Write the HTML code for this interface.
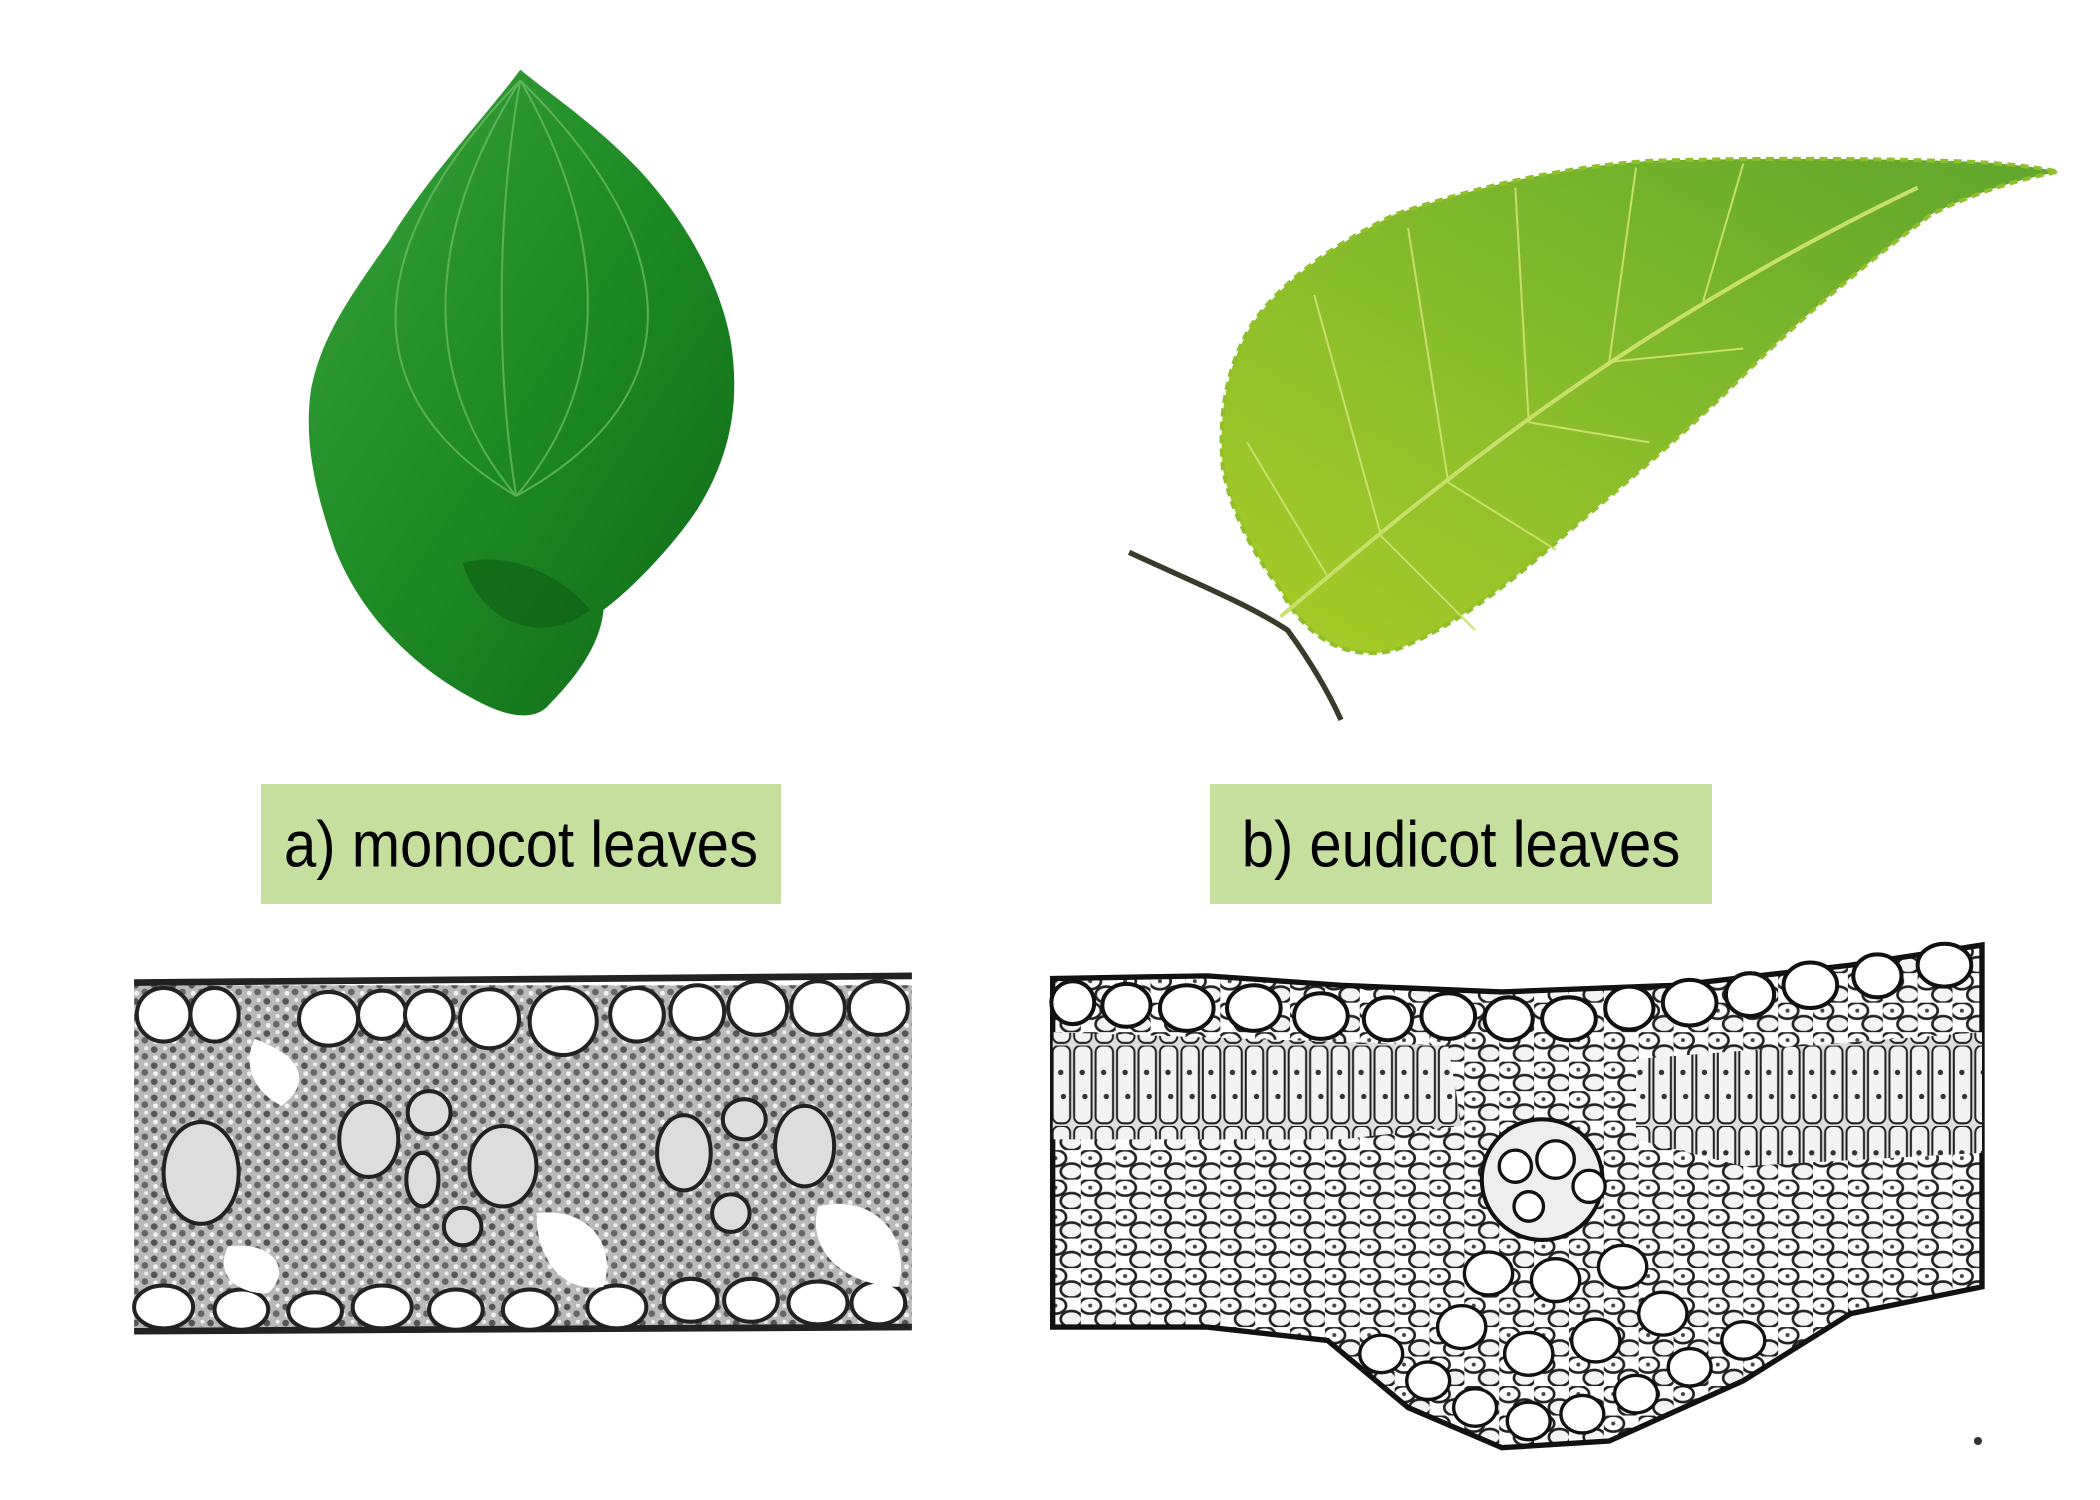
<!DOCTYPE html>
<html><head><meta charset="utf-8"><style>
html,body{margin:0;padding:0;background:#fff;width:2100px;height:1500px;overflow:hidden}
svg{position:absolute;left:0;top:0}
.lbl{position:absolute;background:#c5df9f;font-family:"Liberation Sans",sans-serif;color:#000;display:flex;align-items:center;justify-content:center;font-size:58px}
.lbl span{display:inline-block;transform:scaleY(1.12)}
</style></head><body>
<svg width="2100" height="1500" viewBox="0 0 1566 1119" preserveAspectRatio="none">
<defs>
<linearGradient id="mono" x1="0" y1="0" x2="1" y2="1">
<stop offset="0" stop-color="#3aa23a"/><stop offset="0.5" stop-color="#1d8a24"/><stop offset="1" stop-color="#0f6a18"/></linearGradient>
<linearGradient id="eud" x1="0" y1="1" x2="1" y2="0">
<stop offset="0" stop-color="#a9cc25"/><stop offset="0.4" stop-color="#8cc02a"/><stop offset="1" stop-color="#5fa52e"/></linearGradient>
<pattern id="tex" width="14" height="12" patternUnits="userSpaceOnUse">
<rect width="14" height="12" fill="#b9b9b9"/>
<circle cx="3" cy="3" r="2.5" fill="#555"/><circle cx="10" cy="8" r="2.5" fill="#666"/><circle cx="11" cy="2" r="1.5" fill="#eee"/><circle cx="4" cy="9" r="1.8" fill="#f2f2f2"/></pattern>
<pattern id="tex2" width="26" height="22" patternUnits="userSpaceOnUse">
<rect width="26" height="22" fill="#fff"/>
<ellipse cx="7" cy="6" rx="8" ry="6" fill="#fff" stroke="#222" stroke-width="2"/>
<ellipse cx="19" cy="16" rx="8" ry="6" fill="#f4f4f4" stroke="#222" stroke-width="2"/>
<circle cx="7" cy="6" r="1.5" fill="#444"/></pattern>
<pattern id="pal" width="16" height="60" patternUnits="userSpaceOnUse">
<rect width="16" height="60" fill="#ddd"/>
<rect x="1" y="0" width="13" height="58" rx="5" fill="#f3f3f3" stroke="#222" stroke-width="1.5"/>
<circle cx="7" cy="20" r="2" fill="#333"/><circle cx="9" cy="38" r="2" fill="#333"/></pattern>
</defs>

<path d="M388 52 C360 90 320 130 290 180 C262 220 240 250 232 290 C226 330 236 370 250 410 C270 460 310 500 360 525 C380 535 400 538 410 525 C430 505 448 480 450 455 C470 440 500 410 520 380 C545 340 552 300 545 255 C535 200 500 150 470 120 C440 90 410 70 388 52 Z" fill="url(#mono)"/>
<g stroke="#6fc36a" stroke-width="1.5" fill="none" opacity="0.7">
<path d="M388 60 C370 160 370 280 385 370"/><path d="M388 60 C330 150 300 270 385 370"/><path d="M388 60 C440 150 470 270 385 370"/><path d="M388 60 C280 170 250 290 385 370"/><path d="M388 60 C500 170 530 290 385 370"/></g>
<path d="M345 420 C360 470 410 480 440 455 C420 430 380 410 345 420Z" fill="#0d5d14" opacity="0.6"/>

<path d="M842 412 C880 430 930 450 960 470 C975 490 990 515 1000 537" stroke="#3a3a2a" stroke-width="4" fill="none"/>
<path d="M955 440 C940 420 920 390 912 350 C908 310 915 270 935 240 C960 205 1000 180 1040 160 C1100 140 1160 125 1230 120 C1300 118 1380 118 1450 120 C1490 121 1515 124 1535 128 C1500 135 1470 145 1440 160 C1400 190 1350 230 1300 280 C1250 330 1200 370 1160 405 C1120 440 1080 470 1040 485 C1000 495 970 470 955 440 Z" fill="url(#eud)" stroke="#8fbf2a" stroke-width="3" stroke-dasharray="6 4"/>
<path d="M955 460 C1050 380 1200 250 1430 140" stroke="#c7e06a" stroke-width="3" fill="none"/>
<g stroke="#c7e06a" stroke-width="1.5" fill="none">
<path d="M990 430 L930 330"/><path d="M1030 400 L980 220"/><path d="M1080 360 L1050 170"/><path d="M1140 315 L1130 140"/><path d="M1200 270 L1220 125"/><path d="M1270 225 L1300 122"/>
<path d="M1030 400 L1100 470"/><path d="M1080 360 L1160 410"/><path d="M1140 315 L1230 330"/><path d="M1200 270 L1300 260"/></g>

<rect x="100" y="735" width="580" height="255" fill="url(#tex)"/>
<g fill="#fff" stroke="#222" stroke-width="3">
<path d="M100 733 L680 728" stroke-width="5"/>
<path d="M100 993 L680 990" stroke-width="5"/>
<ellipse cx="122" cy="757" rx="20" ry="20"/><ellipse cx="160" cy="757" rx="18" ry="20"/><ellipse cx="245" cy="760" rx="22" ry="20"/><ellipse cx="285" cy="757" rx="18" ry="18"/><ellipse cx="320" cy="757" rx="18" ry="18"/><ellipse cx="365" cy="760" rx="22" ry="22"/><ellipse cx="420" cy="762" rx="25" ry="25"/><ellipse cx="475" cy="757" rx="20" ry="20"/><ellipse cx="520" cy="755" rx="20" ry="20"/><ellipse cx="565" cy="752" rx="22" ry="20"/><ellipse cx="610" cy="752" rx="20" ry="20"/><ellipse cx="655" cy="752" rx="22" ry="20"/>
<ellipse cx="122" cy="975" rx="22" ry="16"/><ellipse cx="180" cy="977" rx="20" ry="15"/><ellipse cx="235" cy="978" rx="20" ry="14"/><ellipse cx="285" cy="975" rx="22" ry="16"/><ellipse cx="340" cy="977" rx="20" ry="15"/><ellipse cx="395" cy="977" rx="20" ry="15"/><ellipse cx="460" cy="975" rx="22" ry="16"/><ellipse cx="515" cy="970" rx="20" ry="16"/><ellipse cx="560" cy="970" rx="20" ry="16"/><ellipse cx="610" cy="972" rx="22" ry="16"/><ellipse cx="655" cy="972" rx="20" ry="16"/>
</g>
<g fill="#fff" stroke="none">
<path d="M190 775 C230 790 230 810 210 825 C190 815 180 795 190 775Z"/>
<path d="M400 905 C440 900 460 930 450 960 C420 965 400 940 400 905Z"/>
<path d="M610 900 C650 890 680 920 670 960 C640 960 600 940 610 900Z"/>
<path d="M170 930 C200 925 220 945 200 965 C175 965 160 950 170 930Z"/>
</g>
<g fill="#ddd" stroke="#222" stroke-width="3">
<ellipse cx="150" cy="875" rx="28" ry="38"/><ellipse cx="275" cy="850" rx="22" ry="28"/><ellipse cx="375" cy="870" rx="25" ry="30"/><ellipse cx="320" cy="830" rx="16" ry="16"/><ellipse cx="345" cy="915" rx="14" ry="14"/><ellipse cx="315" cy="880" rx="12" ry="20"/>
<ellipse cx="510" cy="860" rx="20" ry="28"/><ellipse cx="600" cy="855" rx="22" ry="30"/><ellipse cx="555" cy="835" rx="16" ry="15"/><ellipse cx="545" cy="905" rx="14" ry="14"/></g>

<path d="M785 730 L900 728 L1000 735 L1120 740 L1250 735 L1380 720 L1478 705 L1478 960 L1380 980 L1300 1030 L1200 1075 L1120 1080 L1050 1050 L990 1000 L900 990 L785 990 Z" fill="url(#tex2)" stroke="#111" stroke-width="4"/>
<path d="M785 770 L1080 780 L1090 840 L1000 850 L785 850 Z" fill="url(#pal)"/>
<path d="M1220 790 L1478 770 L1478 860 L1300 870 L1220 850 Z" fill="url(#pal)"/>
<g fill="#fff" stroke="#111" stroke-width="3">
<ellipse cx="800" cy="748" rx="16" ry="16"/><ellipse cx="840" cy="750" rx="18" ry="16"/><ellipse cx="885" cy="752" rx="20" ry="17"/><ellipse cx="935" cy="752" rx="20" ry="17"/><ellipse cx="985" cy="758" rx="20" ry="17"/><ellipse cx="1035" cy="760" rx="18" ry="16"/><ellipse cx="1080" cy="758" rx="20" ry="17"/><ellipse cx="1125" cy="760" rx="18" ry="16"/><ellipse cx="1170" cy="760" rx="20" ry="16"/><ellipse cx="1215" cy="752" rx="18" ry="16"/><ellipse cx="1260" cy="748" rx="20" ry="17"/><ellipse cx="1305" cy="742" rx="18" ry="16"/><ellipse cx="1350" cy="735" rx="20" ry="17"/><ellipse cx="1400" cy="728" rx="18" ry="16"/><ellipse cx="1450" cy="720" rx="20" ry="16"/>
<ellipse cx="1150" cy="880" rx="45" ry="45" fill="#eee"/></g>
<g fill="#fff" stroke="#111" stroke-width="2.5">
<circle cx="1130" cy="870" r="12"/><circle cx="1160" cy="865" r="14"/><circle cx="1185" cy="885" r="12"/><circle cx="1140" cy="900" r="11"/>
<ellipse cx="1030" cy="1010" rx="16" ry="14"/><ellipse cx="1065" cy="1030" rx="16" ry="14"/><ellipse cx="1100" cy="1050" rx="16" ry="14"/><ellipse cx="1140" cy="1060" rx="16" ry="14"/><ellipse cx="1180" cy="1055" rx="16" ry="14"/><ellipse cx="1220" cy="1040" rx="16" ry="14"/><ellipse cx="1260" cy="1020" rx="16" ry="14"/><ellipse cx="1300" cy="1000" rx="16" ry="14"/>
<ellipse cx="1090" cy="990" rx="18" ry="16"/><ellipse cx="1140" cy="1010" rx="18" ry="16"/><ellipse cx="1190" cy="1000" rx="18" ry="16"/><ellipse cx="1240" cy="980" rx="18" ry="16"/><ellipse cx="1110" cy="950" rx="18" ry="16"/><ellipse cx="1160" cy="955" rx="18" ry="16"/><ellipse cx="1210" cy="945" rx="18" ry="16"/></g>
<circle cx="1475" cy="1075" r="3" fill="#333"/>
</svg>
<div class="lbl" style="left:261px;top:784px;width:520px;height:120px;"><span>a) monocot leaves</span></div>
<div class="lbl" style="left:1210px;top:784px;width:502px;height:120px;"><span>b) eudicot leaves</span></div>
</body></html>
